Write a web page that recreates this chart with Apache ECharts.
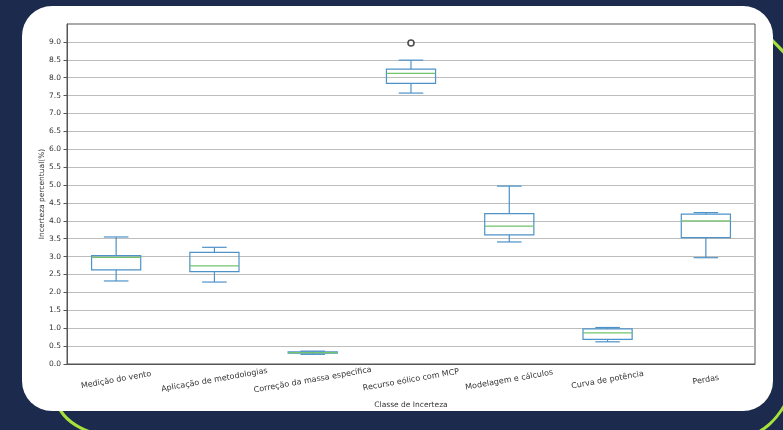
<!DOCTYPE html>
<html>
<head>
<meta charset="utf-8">
<script src="https://cdn.jsdelivr.net/npm/echarts@6/dist/echarts.min.js"></script>
<style>
  html, body { margin: 0; padding: 0; background: #1c2a4d; }
  #chartmain { width: 783px; height: 430px; }
</style>
</head>
<body>
<div id="chartmain"></div>
<script>
// categorias e estatisticas das caixas
var categorias = ['Medição do vento', 'Aplicação de metodologias', 'Correção da massa específica',
  'Recurso eólico com MCP', 'Modelagem e cálculos', 'Curva de potência', 'Perdas'];
var minimos  = [2.32, 2.29, 0.27, 7.57, 3.41, 0.62, 2.97];
var quartil1 = [2.63, 2.58, 0.30, 7.84, 3.61, 0.69, 3.53];
var medianas = [2.98, 2.74, 0.32, 8.12, 3.85, 0.87, 4.00];
var quartil3 = [3.03, 3.12, 0.34, 8.24, 4.20, 0.98, 4.19];
var maximos  = [3.55, 3.26, 0.36, 8.49, 4.97, 1.02, 4.23];
var outliers = [[3, 8.97]];
var yTicks = [0, 0.5, 1, 1.5, 2, 2.5, 3, 3.5, 4, 4.5, 5, 5.5, 6, 6.5, 7, 7.5, 8, 8.5, 9];

var corCaixa = '#4d92c9';
var corMediana = '#72c46c';

var dados = [];
for (var i = 0; i < categorias.length; i++) {
  dados.push([i, minimos[i], quartil1[i], medianas[i], quartil3[i], maximos[i]]);
}

function desenhaCaixa(params, api) {
  var x = api.value(0);
  var pMin = api.coord([x, api.value(1)]);
  var pQ1 = api.coord([x, api.value(2)]);
  var pMed = api.coord([x, api.value(3)]);
  var pQ3 = api.coord([x, api.value(4)]);
  var pMax = api.coord([x, api.value(5)]);
  var larg = api.size([1, 0])[0] * 0.5;
  var cap = larg / 2;
  var cx = pMed[0];
  var est = { stroke: corCaixa, lineWidth: 1.2, fill: 'none' };
  return {
    type: 'group',
    children: [
      { type: 'line', shape: { x1: cx, y1: pQ1[1], x2: cx, y2: pMin[1] }, style: est },
      { type: 'line', shape: { x1: cx, y1: pQ3[1], x2: cx, y2: pMax[1] }, style: est },
      { type: 'line', shape: { x1: cx - cap / 2, y1: pMin[1], x2: cx + cap / 2, y2: pMin[1] }, style: est },
      { type: 'line', shape: { x1: cx - cap / 2, y1: pMax[1], x2: cx + cap / 2, y2: pMax[1] }, style: est },
      { type: 'rect', shape: { x: cx - larg / 2, y: pQ3[1], width: larg, height: pQ1[1] - pQ3[1] }, style: est },
      { type: 'line', shape: { x1: cx - larg / 2, y1: pMed[1], x2: cx + larg / 2, y2: pMed[1] },
        style: { stroke: corMediana, lineWidth: 1.2 } }
    ]
  };
}

var myChart = echarts.init(document.getElementById('chartmain'));
myChart.setOption({
  backgroundColor: '#1c2a4d',
  animation: false,
  textStyle: { fontFamily: 'DejaVu Sans' },
  graphic: [
    { type: 'bezierCurve', z: -20, silent: true,
      shape: { x1: 55, y1: 398, x2: 130, y2: 440, cpx1: 62, cpy1: 425, cpx2: 90, cpy2: 436 },
      style: { stroke: '#a6e23a', lineWidth: 3, fill: 'none' } },
    { type: 'bezierCurve', z: -20, silent: true,
      shape: { x1: 740, y1: 20, x2: 790, y2: 60, cpx1: 760, cpy1: 28, cpx2: 775, cpy2: 40 },
      style: { stroke: '#a6e23a', lineWidth: 3, fill: 'none' } },
    { type: 'bezierCurve', z: -20, silent: true,
      shape: { x1: 790, y1: 395, x2: 740, y2: 440, cpx1: 778, cpy1: 420, cpx2: 765, cpy2: 432 },
      style: { stroke: '#a6e23a', lineWidth: 3, fill: 'none' } },
    { type: 'rect', z: -10, silent: true,
      shape: { x: 22, y: 6, width: 751, height: 405, r: 30 },
      style: { fill: '#ffffff' } }
  ],
  grid: { left: 67, right: 28, top: 24, bottom: 66, show: true, borderColor: '#555', borderWidth: 1 },
  xAxis: {
    type: 'category',
    data: categorias,
    name: 'Classe de Incerteza',
    nameLocation: 'middle',
    nameGap: 37,
    nameTextStyle: { color: '#333', fontSize: 7.5 },
    axisLine: { lineStyle: { color: '#555' } },
    axisTick: { alignWithLabel: true, length: 3.5, lineStyle: { color: '#555' } },
    axisLabel: { rotate: 10, align: 'center', margin: 16, color: '#333', fontSize: 8, interval: 0 },
    splitLine: { show: false }
  },
  yAxis: {
    type: 'value',
    min: 0,
    max: 9.5,
    interval: 0.5,
    name: 'Incerteza percentual(%)',
    nameLocation: 'middle',
    nameGap: 21,
    nameMoveOverlap: false,
    nameTextStyle: { color: '#333', fontSize: 7.5 },
    axisLine: { show: true, lineStyle: { color: '#555' } },
    axisTick: { show: true, length: 3.5, customValues: yTicks, lineStyle: { color: '#555' } },
    axisLabel: {
      color: '#333', fontSize: 7.5, margin: 6, customValues: yTicks,
      formatter: function (v) { return v.toFixed(1); }
    },
    splitLine: { show: true, lineStyle: { color: '#bdbdbd', width: 1 } }
  },
  series: [
    {
      type: 'custom',
      renderItem: desenhaCaixa,
      encode: { x: 0, y: [1, 2, 3, 4, 5] },
      data: dados
    },
    {
      type: 'scatter',
      symbol: 'circle',
      symbolSize: 6,
      itemStyle: { color: '#ffffff', borderColor: '#222', borderWidth: 1.6 },
      data: outliers
    }
  ]
});
</script>
</body>
</html>
